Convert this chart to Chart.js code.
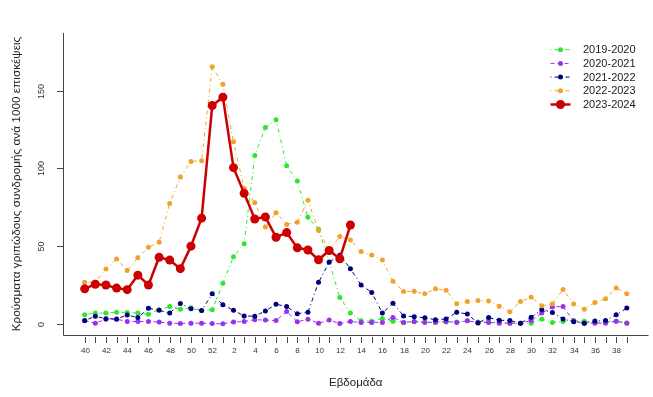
<!DOCTYPE html>
<html>
<head>
<meta charset="utf-8">
<script src="https://cdn.jsdelivr.net/npm/chart.js@4/dist/chart.umd.min.js"></script>
<style>
  body { margin: 0; background: #fff; }
  canvas { display: block; }
</style>
</head>
<body>
<canvas id="fluChart" width="653" height="397"></canvas>
<script>
// weeks of the season, week 40 to week 39
var weeks = ['40','41','42','43','44','45','46','47','48','49','50','51','52',
    '1','2','3','4','5','6','7','8','9','10','11','12','13','14','15','16','17','18','19',
    '20','21','22','23','24','25','26','27','28','29','30','31','32','33','34','35','36','37','38','39'];

var s2019 = [5.8, 6.9, 6.9, 7.5, 7.3, 6.9, 6.2, 9.0, 11.1, 9.4, 10.3, 8.6, 9.0,
    26.1, 43.1, 51.5, 108.4, 126.4, 131.3, 101.8, 91.9, 68.6, 60.8, 40.0, 17.0, 6.9,
    1.9, 1.7, 3.4, 1.7, 0.9, 1.3, 1.3, 1.5, 1.1, 1.1, 2.0, 1.1, 1.9, 0.9,
    0.4, 0.4, 0.4, 3.0, 0.9, 1.5, 2.1, 1.7, 0.9, 1.5, 1.7, 0.5];
var s2020 = [2.0, 0.4, 3.0, 3.0, 1.5, 1.5, 1.5, 1.1, 0.4, 0.2, 0.4, 0.4, 0.2,
    0.0, 1.1, 1.5, 2.6, 2.4, 2.1, 7.9, 1.3, 3.0, 0.4, 2.4, 0.2, 1.5,
    0.8, 0.9, 0.9, 4.1, 0.9, 1.5, 0.9, 0.9, 1.5, 0.9, 1.9, 0.9, 0.9, 0.4,
    0.4, 0.4, 2.1, 6.9, 10.9, 11.1, 1.8, 0.4, 0.4, 0.4, 1.7, 0.4];
var s2021 = [2.1, 4.8, 3.3, 3.1, 5.7, 4.0, 10.0, 8.7, 6.9, 13.0, 9.7, 8.6, 19.3,
    12.2, 8.7, 5.1, 4.9, 8.3, 12.6, 11.1, 6.5, 7.4, 26.7, 39.6, 44.2, 35.5,
    25.0, 20.2, 6.9, 13.3, 5.1, 4.6, 3.9, 2.6, 3.1, 7.5, 6.3, 0.5, 4.1, 2.3,
    2.1, 0.4, 4.2, 9.0, 7.3, 3.1, 1.4, 0.4, 1.8, 2.2, 5.8, 10.1];
var s2022 = [26.8, 26.8, 35.3, 41.8, 34.3, 42.6, 49.3, 52.5, 77.5, 94.5, 104.5, 105.0, 165.4,
    154.2, 117.2, 87.2, 78.0, 62.3, 71.5, 64.0, 65.3, 79.5, 60.0, 47.5, 56.2, 53.9,
    46.5, 44.3, 41.1, 27.4, 20.8, 20.9, 19.3, 22.6, 21.6, 12.9, 14.3, 15.0, 14.7, 11.3,
    7.8, 14.4, 17.1, 11.6, 12.9, 22.1, 12.8, 9.4, 13.7, 16.2, 23.1, 19.3];
var s2023 = [22.5, 25.5, 25.0, 23.0, 22.0, 31.3, 25.0, 42.8, 41.0, 35.5, 50.0, 68.0, 140.5,
    145.9, 100.5, 84.0, 67.5, 68.8, 55.7, 58.7, 48.9, 47.5, 41.2, 47.2, 41.9, 63.6];

var seasons = ['2019-2020', '2020-2021', '2021-2022', '2022-2023', '2023-2024'];
var yTicks = [0, 50, 100, 150];

function toPoints(values) {
    return values.map(function(v, i) { return { x: i, y: v }; });
}

function thinSeries(label, values, color, dash, order) {
    return {
        label: label,
        data: toPoints(values),
        borderColor: color,
        backgroundColor: color,
        borderWidth: 1,
        borderDash: dash,
        pointRadius: 2.5,
        pointBorderWidth: 0,
        pointHoverRadius: 2.5,
        tension: 0,
        order: order
    };
}

var font = '"Liberation Sans", Arial, sans-serif';

var axesPlugin = {
    id: 'rAxes',
    afterDraw: function(chart) {
        var ctx = chart.ctx;
        var xs = chart.scales.x, ys = chart.scales.y;
        var area = chart.chartArea;
        ctx.save();
        ctx.strokeStyle = '#444';
        ctx.lineWidth = 1;
        // box: left and bottom
        ctx.beginPath();
        ctx.moveTo(area.left + 0.5, area.top);
        ctx.lineTo(area.left + 0.5, area.bottom + 0.5);
        ctx.lineTo(area.right, area.bottom + 0.5);
        ctx.stroke();

        // x ticks
        ctx.fillStyle = '#333';
        ctx.font = '8px ' + font;
        ctx.textAlign = 'center';
        ctx.textBaseline = 'middle';
        weeks.forEach(function(w, i) {
            var px = Math.round(xs.getPixelForValue(i)) + 0.5;
            ctx.beginPath();
            ctx.moveTo(px, area.bottom + 2);
            ctx.lineTo(px, area.bottom + 8);
            ctx.stroke();
            if (i % 2 === 0) ctx.fillText(w, px, area.bottom + 16);
        });

        // y ticks, labels parallel to axis
        yTicks.forEach(function(t) {
            var py = Math.round(ys.getPixelForValue(t)) + 0.5;
            ctx.beginPath();
            ctx.moveTo(area.left - 6, py);
            ctx.lineTo(area.left, py);
            ctx.stroke();
            ctx.save();
            ctx.translate(area.left - 21, py);
            ctx.rotate(-Math.PI / 2);
            ctx.font = '9px ' + font;
            ctx.fillText(String(t), 0, 0);
            ctx.restore();
        });

        // axis titles
        ctx.fillStyle = '#222';
        ctx.font = '11.5px ' + font;
        ctx.fillText('Εβδομάδα', (area.left + area.right) / 2, 383);
        ctx.save();
        ctx.translate(17, (area.top + area.bottom) / 2);
        ctx.rotate(-Math.PI / 2);
        ctx.font = '11.8px ' + font;
        ctx.fillText('Κρούσματα γριπώδους συνδρομής ανά 1000 επισκέψεις', 0, 0);
        ctx.restore();

        // legend
        ctx.font = '11px ' + font;
        ctx.textAlign = 'left';
        chart.data.datasets.forEach(function(ds, i) {
            var y = 49.7 + i * 13.7;
            ctx.save();
            ctx.strokeStyle = ds.borderColor;
            ctx.lineWidth = ds.borderWidth;
            ctx.setLineDash(ds.borderDash || []);
            ctx.beginPath();
            ctx.moveTo(550.5, y);
            ctx.lineTo(570.5, y);
            ctx.stroke();
            ctx.setLineDash([]);
            ctx.fillStyle = ds.backgroundColor;
            ctx.beginPath();
            ctx.arc(560.5, y, ds.pointRadius, 0, Math.PI * 2);
            ctx.fill();
            ctx.restore();
            ctx.fillStyle = '#222';
            ctx.fillText(ds.label, 583, y + 0.5);
        });
        ctx.restore();
    }
};

var ctx = document.getElementById('fluChart').getContext('2d');
var fluChart = new Chart(ctx, {
    type: 'line',
    data: {
        datasets: [
            thinSeries(seasons[0], s2019, '#2ee62e', [1, 3, 4, 3], 4),
            thinSeries(seasons[1], s2020, '#9b30ee', [4, 3], 3),
            thinSeries(seasons[2], s2021, '#000080', [1, 3, 4, 3], 2),
            thinSeries(seasons[3], s2022, '#f2a22a', [1, 3, 4, 3], 1),
            {
                label: seasons[4],
                data: toPoints(s2023),
                borderColor: '#cc0000',
                backgroundColor: '#cc0000',
                borderWidth: 2.5,
                borderDash: [],
                pointRadius: 4.5,
                pointBorderWidth: 0,
                pointHoverRadius: 4.5,
                tension: 0,
                order: 0
            }
        ]
    },
    options: {
        responsive: false,
        animation: false,
        devicePixelRatio: 1,
        layout: { padding: { left: 63, right: 4, top: 33, bottom: 62 } },
        plugins: {
            legend: { display: false },
            tooltip: { enabled: false }
        },
        scales: {
            x: { type: 'linear', min: -2.04, max: 53.04, display: false },
            y: { type: 'linear', min: -7.2, max: 187.2, display: false }
        }
    },
    plugins: [axesPlugin]
});
</script>
</body>
</html>
